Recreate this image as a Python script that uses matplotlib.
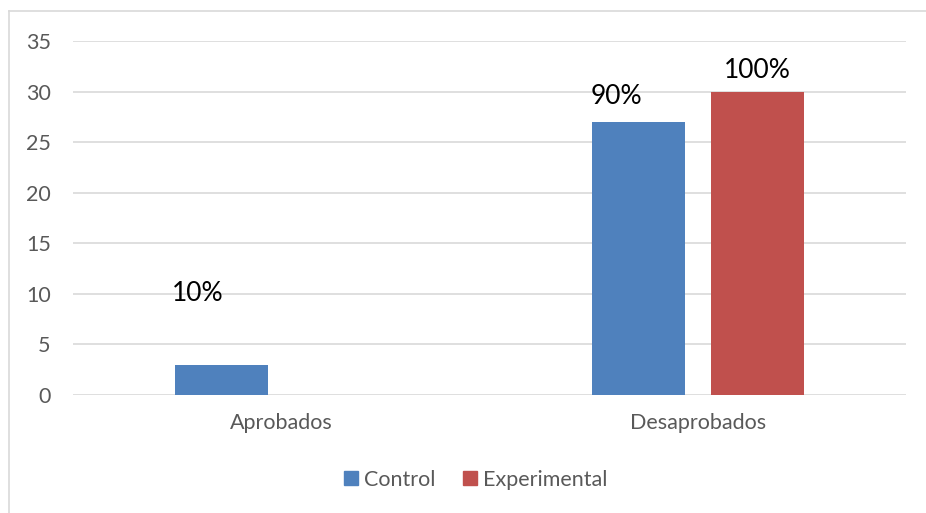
import numpy as np
import matplotlib
matplotlib.use('Agg')
import matplotlib.pyplot as plt
from matplotlib.lines import Line2D

plt.rcParams['font.family'] = ['Lato', 'DejaVu Sans']

categories = ['Aprobados', 'Desaprobados']
control = [3, 27]
experimental = [0, 30]
control_labels = ['10%', '90%']
experimental_labels = [None, '100%']

blue = '#4F81BD'
red = '#C0504D'
grey = '#595959'

fig = plt.figure(figsize=(9.26, 5.13), dpi=100)
ax = fig.add_axes([73/926, 118/513, 833/926, 354/513])

x = np.arange(len(categories))
w = 0.224
off = 0.143
b1 = ax.bar(x - off, control, w, color=blue, label='Control', zorder=3)
b2 = ax.bar(x + off, experimental, w, color=red, label='Experimental', zorder=3)

# label placement (offsets in points, moved by hand in the original)
ctrl_shift = [(-17, 51), (-16, 18)]
exp_shift = [(0, 0), (0, 15)]
for rect, lab, (dx, dy) in zip(b1, control_labels, ctrl_shift):
    if lab:
        ax.annotate(lab, (rect.get_x() + rect.get_width()/2, rect.get_height()),
                    xytext=(dx, dy), textcoords='offset points',
                    ha='center', va='center', fontsize=19, color='black')
for rect, lab, (dx, dy) in zip(b2, experimental_labels, exp_shift):
    if lab:
        ax.annotate(lab, (rect.get_x() + rect.get_width()/2, rect.get_height()),
                    xytext=(dx, dy), textcoords='offset points',
                    ha='center', va='center', fontsize=19, color='black')

ax.set_xlim(-0.5, 1.5)
ax.set_ylim(0, 35)
ax.set_yticks(range(0, 36, 5))
ax.set_xticks(x)
ax.set_xticklabels(categories)
ax.tick_params(length=0, labelsize=15.5, colors=grey)
ax.tick_params(axis='x', pad=13)
ax.tick_params(axis='y', pad=16)
ax.grid(axis='y', color='#D9D9D9', linewidth=1.2, zorder=0)
for s in ax.spines.values():
    s.set_visible(False)

handles = [plt.Rectangle((0, 0), 1, 1, color=blue), plt.Rectangle((0, 0), 1, 1, color=red)]
fig.legend(handles, ['Control', 'Experimental'], loc='center', bbox_to_anchor=(476/926, 1 - 480/513),
           ncol=2, frameon=False, fontsize=15.5, handlelength=0.62, handleheight=0.62,
           handletextpad=0.3, columnspacing=1.3, labelcolor=grey)

fig.add_artist(Line2D([9/926, 9/926], [0, 1 - 11/513], color='#D9D9D9', linewidth=1.2))
fig.add_artist(Line2D([9/926, 1], [1 - 11/513, 1 - 11/513], color='#D9D9D9', linewidth=1.2))

plt.savefig('out.png', dpi=100)
